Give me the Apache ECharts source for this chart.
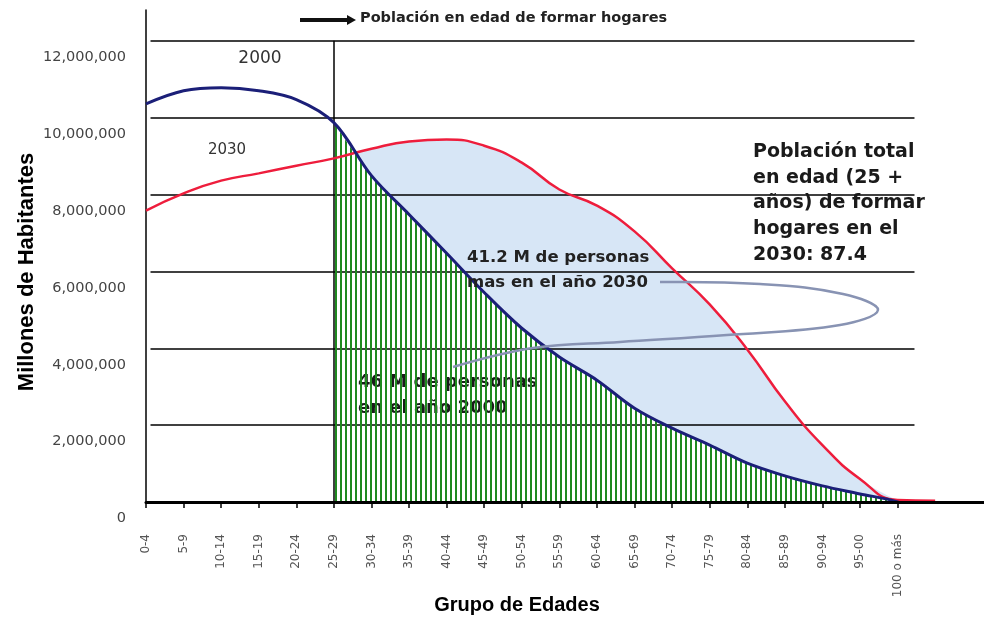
<!DOCTYPE html>
<html>
<head>
<meta charset="utf-8">
<script src="https://cdn.jsdelivr.net/npm/echarts@6/dist/echarts.min.js"></script>
<style>
  html, body { margin: 0; padding: 0; background: #fff; }
  #chart { width: 984px; height: 617px; }
</style>
</head>
<body>
<div id="chart"></div>
<script>
// grupos de edad (eje x)
const edades = ["0-4", "5-9", "10-14", "15-19", "20-24", "25-29", "30-34", "35-39",
  "40-44", "45-49", "50-54", "55-59", "60-64", "65-69", "70-74", "75-79",
  "80-84", "85-89", "90-94", "95-00", "100 o más"];

// habitantes por grupo
const pob2000 = [10360000, 10700000, 10780000, 10700000, 10470000, 9870000, 8490000,
  7480000, 6470000, 5450000, 4520000, 3770000, 3170000, 2440000, 1920000, 1480000,
  1010000, 680000, 420000, 210000, 0];
const pob2030 = [7580000, 8030000, 8360000, 8550000, 8750000, 8940000, 9190000,
  9380000, 9430000, 9270000, 8830000, 8130000, 7710000, 7040000, 6080000, 5140000,
  3970000, 2620000, 1480000, 600000, 50000];

// la curva 2000 sigue un poco despues de "100 o más"
const cola2000 = [21.65, -650000];
const cola2030 = [21, 30000];

const yTicks = [2000000, 4000000, 6000000, 8000000, 10000000, 12000000];
const inicioHogares = 5; // 25-29
const suave2000 = 0.35;

function pares(values, from, to) {
  let out = [];
  for (let i = from; i <= to; i++) out.push([i, values[i]]);
  return out;
}

// patron de rayas verticales verdes (fondo transparente)
function rayas() {
  let c = document.createElement("canvas");
  c.width = 5;
  c.height = 10;
  let ctx = c.getContext("2d");
  ctx.fillStyle = "#1f8a1f";
  ctx.fillRect(0, 0, 2, 10);
  return c;
}

let chart = echarts.init(document.getElementById("chart"), null, { renderer: "canvas" });

let gridLines = yTicks.map(v => [{ coord: [0.12, v] }, { coord: [20.45, v] }]);
gridLines.push([{ coord: [inicioHogares, 0] }, { coord: [inicioHogares, 12000000] }]);

let option = {
  backgroundColor: "#ffffff",
  animation: false,
  grid: { left: 146, right: 0, top: 10, bottom: 115 },
  xAxis: {
    type: "value",
    min: 0,
    max: 22.3,
    z: 8,
    axisLine: { lineStyle: { color: "#000", width: 3 } },
    axisTick: {
      customValues: edades.map((_, i) => i),
      length: 6,
      lineStyle: { color: "#000", width: 1.5 },
    },
    axisLabel: {
      customValues: edades.map((_, i) => i),
      rotate: 90,
      margin: 32,
      fontFamily: "DejaVu Sans",
      fontSize: 12,
      color: "#555",
      formatter: v => edades[v] || "",
    },
    splitLine: { show: false },
  },
  yAxis: {
    type: "value",
    min: 0,
    max: 12800000,
    interval: 2000000,
    axisLine: { show: true, lineStyle: { color: "#000", width: 1.5 } },
    axisTick: { show: false },
    axisLabel: {
      showMaxLabel: false,
      margin: 20,
      verticalAlign: "top",
      padding: [9, 0, 0, 0],
      fontFamily: "DejaVu Sans",
      fontSize: 14.5,
      color: "#444",
      formatter: v => v.toLocaleString("en-US"),
    },
    splitLine: { show: false },
  },
  series: [
    {
      name: "rejilla",
      type: "line",
      data: [],
      silent: true,
      markLine: {
        silent: true,
        symbol: "none",
        label: { show: false },
        lineStyle: { color: "#000", width: 1.5, type: "solid" },
        data: gridLines,
      },
    },
    {
      name: "2030 área",
      type: "line",
      smooth: true,
      symbol: "none",
      z: 3,
      lineStyle: { width: 0 },
      areaStyle: { color: "#d7e6f6", opacity: 1 },
      data: pares(pob2030, inicioHogares, 20),
    },
    {
      // fondo blanco bajo las rayas, tapa el azul claro
      name: "2000 fondo",
      type: "line",
      smooth: suave2000,
      symbol: "none",
      z: 4,
      lineStyle: { width: 0 },
      areaStyle: { color: "#ffffff", opacity: 1 },
      data: pares(pob2000, inicioHogares, 20),
    },
    {
      name: "2000 área",
      type: "line",
      smooth: suave2000,
      symbol: "none",
      z: 6,
      lineStyle: { width: 0 },
      areaStyle: { color: { image: rayas(), repeat: "repeat" }, opacity: 1, origin: -290000 },
      data: pares(pob2000, inicioHogares, 20),
    },
    {
      name: "2030",
      type: "line",
      smooth: true,
      symbol: "none",
      z: 7,
      lineStyle: { color: "#ee1d3c", width: 2.5 },
      data: pares(pob2030, 0, 20).concat([cola2030]),
    },
    {
      name: "2000",
      type: "line",
      smooth: suave2000,
      symbol: "none",
      z: 7,
      lineStyle: { color: "#1b1f78", width: 3 },
      data: pares(pob2000, 0, 20).concat([cola2000]),
    },
  ],
  graphic: [
    // flecha + leyenda superior
    {
      type: "line",
      shape: { x1: 300, y1: 20, x2: 349, y2: 20 },
      style: { stroke: "#111", lineWidth: 4 },
    },
    {
      type: "polygon",
      shape: { points: [[347, 15], [356, 20], [347, 25]] },
      style: { fill: "#111" },
    },
    {
      type: "text",
      left: 360,
      top: 11,
      style: {
        text: "Población en edad de formar hogares",
        font: "bold 14.5px 'DejaVu Sans'",
        fill: "#222",
      },
    },
    {
      type: "text",
      x: 260,
      y: 59,
      style: { text: "2000", font: "17px 'DejaVu Sans'", fill: "#333", align: "center", verticalAlign: "middle" },
    },
    {
      type: "text",
      x: 227,
      y: 150,
      style: { text: "2030", font: "15px 'DejaVu Sans'", fill: "#333", align: "center", verticalAlign: "middle" },
    },
    // lazo que une las dos notas
    {
      type: "polyline",
      z: 20,
      shape: {
        smooth: 0.4,
        points: [[453, 367], [533, 348], [620, 342], [727, 335], [840, 325], [878, 310],
          [843, 294], [760, 284], [660, 282]],
      },
      style: { stroke: "#8893b3", lineWidth: 2.5, fill: null },
    },
    {
      type: "text",
      left: 467,
      top: 245,
      z: 20,
      style: {
        text: "41.2 M de personas\nmas en el año 2030",
        font: "bold 16.5px 'DejaVu Sans'",
        lineHeight: 25,
        fill: "#222",
      },
    },
    {
      // queda debajo de las rayas verdes, como en el original
      type: "text",
      left: 358,
      top: 369,
      z: 5,
      style: {
        text: "46 M de personas\nen el año 2000",
        font: "bold 18px 'DejaVu Sans'",
        lineHeight: 26,
        fill: "#1a1a1a",
      },
    },
    {
      type: "text",
      left: 753,
      top: 139,
      z: 20,
      style: {
        text: "Población total\nen edad (25 +\naños) de formar\nhogares en el\n2030: 87.4",
        font: "bold 19px 'DejaVu Sans'",
        lineHeight: 25.8,
        fill: "#1a1a1a",
      },
    },
    // titulos de los ejes
    {
      type: "text",
      x: 27,
      y: 272,
      rotation: Math.PI / 2,
      style: {
        text: "Millones de Habitantes",
        font: "bold 22px 'Liberation Sans'",
        fill: "#000",
        align: "center",
        verticalAlign: "middle",
      },
    },
    {
      type: "text",
      x: 517,
      y: 605,
      style: {
        text: "Grupo de Edades",
        font: "bold 20px 'Liberation Sans'",
        fill: "#000",
        align: "center",
        verticalAlign: "middle",
      },
    },
  ],
};

chart.setOption(option);
</script>
</body>
</html>
